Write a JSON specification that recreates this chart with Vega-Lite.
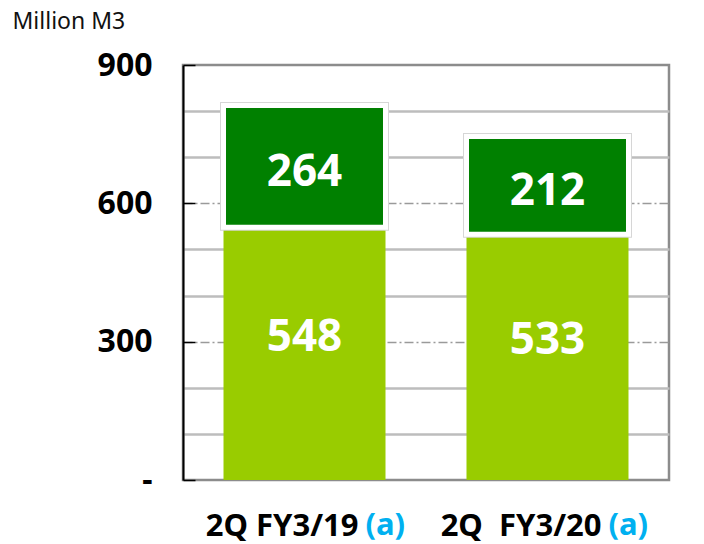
{
  "$schema": "https://vega.github.io/schema/vega-lite/v6.json",
  "width": 486,
  "height": 415,
  "autosize": {"type": "none"},
  "padding": {"left": 183, "top": 65, "right": 35, "bottom": 64},
  "background": "white",
  "config": {
    "view": {"stroke": "#8c8c8c", "strokeWidth": 2.5},
    "font": "Noto Sans"
  },
  "data": {
    "values": [
      {"period": "2Q FY3/19", "series": "Lower", "value": 548},
      {"period": "2Q FY3/19", "series": "Upper", "value": 264},
      {"period": "2Q\u00a0 FY3/20", "series": "Lower", "value": 533},
      {"period": "2Q\u00a0 FY3/20", "series": "Upper", "value": 212}
    ]
  },
  "transform": [
    {"stack": "value", "groupby": ["period"], "sort": [{"field": "series", "order": "ascending"}], "as": ["v0", "v1"]},
    {"calculate": "(datum.v0 + datum.v1) / 2", "as": "mid"}
  ],
  "encoding": {
    "x": {
      "field": "period",
      "type": "nominal",
      "sort": null,
      "scale": {"paddingInner": 0.3333, "paddingOuter": 0.1667},
      "axis": {
        "title": null,
        "domain": false,
        "ticks": false,
        "labelAngle": 0,
        "labelAlign": "right",
        "labelBaseline": "alphabetic",
        "labelOffset": 54,
        "labelPadding": 55,
        "labelFont": "Noto Sans",
        "labelFontWeight": "bold",
        "labelFontSize": 31,
        "labelColor": "#000000",
        "labelLimit": 0
      }
    }
  },
  "layer": [
    {
      "transform": [{"filter": "datum.series === 'Lower'"}],
      "mark": {"type": "bar", "color": "#99cc00"},
      "encoding": {
        "y": {
          "field": "v0",
          "type": "quantitative",
          "title": "Million M3",
          "scale": {"domain": [0, 900], "nice": false},
          "axis": {
            "title": "Million M3",
            "titleAngle": 0,
            "titleAlign": "left",
            "titleBaseline": "alphabetic",
            "titleX": -171,
            "titleY": -37,
            "titleFont": "Noto Sans",
            "titleFontWeight": "normal",
            "titleFontSize": 23,
            "titleColor": "#111111",
            "values": [0, 100, 200, 300, 400, 500, 600, 700, 800, 900],
            "labelExpr": "datum.value === 0 ? '-' : (datum.value % 300 === 0 ? format(datum.value, 'd') : '')",
            "labelFont": "Noto Sans",
            "labelFontWeight": "bold",
            "labelFontSize": 32,
            "labelColor": "#000000",
            "labelPadding": 43,
            "labelOverlap": false,
            "labelFlush": false,
            "labelBaseline": "middle",
            "domain": true,
            "domainColor": "#000000",
            "domainWidth": 2,
            "ticks": true,
            "tickSize": -12,
            "tickColor": "#000000",
            "tickWidth": 1.5,
            "tickOpacity": {"condition": {"test": "datum.value % 300 === 0", "value": 1}, "value": 0},
            "grid": true,
            "gridColor": {"condition": {"test": "datum.value % 300 === 0", "value": "#9a9a9a"}, "value": "#bdbdbd"},
            "gridWidth": {"condition": {"test": "datum.value % 300 === 0", "value": 1.5}, "value": 2.5},
            "gridDash": {"condition": {"test": "datum.value % 300 === 0", "value": [9, 3, 2, 3]}, "value": []},
            "gridOpacity": {"condition": {"test": "datum.value === 0 || datum.value === 900", "value": 0}, "value": 1}
          }
        },
        "y2": {"field": "v1"}
      }
    },
    {
      "transform": [{"filter": "datum.series === 'Upper'"}],
      "mark": {"type": "bar", "color": "#008000", "stroke": "#d6d6d6", "strokeWidth": 7},
      "encoding": {
        "y": {"field": "v0", "type": "quantitative", "title": "Million M3"},
        "y2": {"field": "v1"}
      }
    },
    {
      "transform": [{"filter": "datum.series === 'Upper'"}],
      "mark": {"type": "bar", "color": "#008000", "stroke": "#ffffff", "strokeWidth": 5},
      "encoding": {
        "y": {"field": "v0", "type": "quantitative", "title": "Million M3"},
        "y2": {"field": "v1"}
      }
    },
    {
      "transform": [{"filter": "datum.series === 'Lower'"}],
      "mark": {"type": "text", "color": "#ffffff", "font": "Noto Sans", "fontWeight": "bold", "fontSize": 44, "baseline": "middle", "align": "center", "dy": -16},
      "encoding": {
        "y": {"field": "mid", "type": "quantitative", "title": "Million M3"},
        "text": {"field": "value", "type": "quantitative"}
      }
    },
    {
      "transform": [{"filter": "datum.series === 'Upper'"}],
      "mark": {"type": "text", "color": "#ffffff", "font": "Noto Sans", "fontWeight": "bold", "fontSize": 44, "baseline": "middle", "align": "center", "dy": 7},
      "encoding": {
        "y": {"field": "mid", "type": "quantitative", "title": "Million M3"},
        "text": {"field": "value", "type": "quantitative"}
      }
    },
    {
      "transform": [{"filter": "datum.series === 'Lower'"}],
      "mark": {"type": "text", "color": "#00b0f0", "font": "Noto Sans", "fontWeight": "bold", "fontSize": 31, "baseline": "alphabetic", "align": "left", "dx": 61, "dy": 55},
      "encoding": {
        "y": {"datum": 0, "type": "quantitative", "title": "Million M3"},
        "text": {"value": "(a)"}
      }
    }
  ]
}
